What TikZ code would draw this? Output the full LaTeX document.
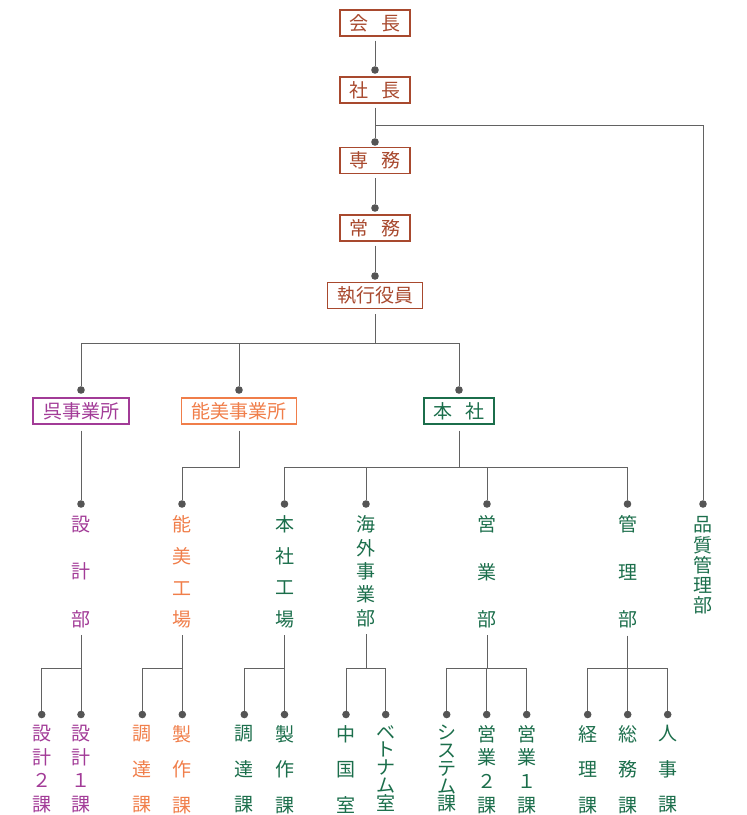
\documentclass[tikz,border=0pt]{standalone}
\usepackage{fontspec}
\setmainfont{Noto Sans CJK JP}
\definecolor{cBrown}{HTML}{A8492E}
\definecolor{cPurple}{HTML}{A23B97}
\definecolor{cOrange}{HTML}{F07E4A}
\definecolor{cGreen}{HTML}{1B6E4B}
\definecolor{cLine}{HTML}{626262}
\definecolor{cDot}{HTML}{555555}
\newcommand\myvfont[1]{\fontsize{19pt}{#1pt}\selectfont\lineskiplimit=-50pt\relax\lineskip=0pt\relax}
\begin{document}
\begin{tikzpicture}[x=1pt,y=-1pt,
  box/.style={draw, line width=1.2pt, inner sep=0pt, minimum height=26pt, font=\fontsize{19pt}{19pt}\selectfont},
  topbox/.style={box, draw=cBrown, text=cBrown},
  kurebox/.style={box, draw=cPurple, text=cPurple},
  nomibox/.style={box, draw=cOrange, text=cOrange},
  honbox/.style={box, draw=cGreen, text=cGreen},
  dot/.style={circle, fill=cDot, inner sep=0pt, minimum size=7.6pt},
  ln/.style={draw=cLine, line width=1pt},
  vlab/.style 2 args={anchor=north, inner sep=0pt, align=center, text=#1,
    font={\myvfont{#2}}},
]
\useasboundingbox (0,0) rectangle (747,815);
% helper rows
\coordinate (yA) at (0,125);
\coordinate (yB) at (0,343);
\coordinate (yC) at (0,467.5);
\coordinate (yD) at (0,668);

% top chain
\node[topbox, minimum width=70pt] (kaicho) at (375,23) {会\hspace{13.5pt}長};
\node[dot] (d1) at (375,70) {};
\node[topbox, minimum width=70pt] (shacho) at (375,90) {社\hspace{13.5pt}長};
\node[dot] (d2) at (375,142) {};
\node[topbox, minimum width=70pt] (senmu) at (375,160.5) {専\hspace{13.5pt}務};
\node[dot] (d3) at (375,208) {};
\node[topbox, minimum width=70pt] (jomu) at (375,228) {常\hspace{13.5pt}務};
\node[dot] (d4) at (375,276) {};
\node[topbox, minimum width=95pt] (shikko) at (375,295.5) {執行役員};

% offices
\node[dot] (dKure) at (81,390) {};
\node[dot] (dNomi) at (239,390) {};
\node[dot] (dHon) at (459,390) {};
\node[kurebox, minimum width=96pt] (kure) at (81,411) {呉事業所};
\node[nomibox, minimum width=115pt] (nomi) at (239,411) {能美事業所};
\node[honbox, minimum width=70pt] (honsha) at (459,411) {本\hspace{14pt}社};

% departments
\node[dot] (dSekkei) at (81,504) {};
\node[dot] (dNK) at (182,504) {};
\node[dot] (dHK) at (284.5,504) {};
\node[dot] (dKaigai) at (366,504) {};
\node[dot] (dEigyo) at (487,504) {};
\node[dot] (dKanri) at (627.5,504) {};
\node[dot] (dHin) at (703,504) {};

\node[vlab={cPurple}{47.5}] (lSekkei) at (81,515.5) {設\\計\\部};
\node[vlab={cOrange}{31.67}] (lNK) at (182,515.5) {能\\美\\工\\場};
\node[vlab={cGreen}{31.67}] (lHK) at (284.5,515.5) {本\\社\\工\\場};
\node[vlab={cGreen}{23.4}] (lKaigai) at (366,515.5) {海\\外\\事\\業\\部};
\node[vlab={cGreen}{47.5}] (lEigyo) at (487,515.5) {営\\業\\部};
\node[vlab={cGreen}{47.5}] (lKanri) at (627.5,515.5) {管\\理\\部};
\node[vlab={cGreen}{20.25}] (lHin) at (703,516.5) {品\\質\\管\\理\\部};

% sections
\node[dot] (bS2) at (41.7,714.5) {};
\node[dot] (bS1) at (81,714.5) {};
\node[dot] (bNC) at (142.3,714.5) {};
\node[dot] (bNS) at (182.3,714.5) {};
\node[dot] (bHC) at (244.3,714.5) {};
\node[dot] (bHS) at (284.5,714.5) {};
\node[dot] (bCN) at (346,714.5) {};
\node[dot] (bVN) at (385.7,714.5) {};
\node[dot] (bSys) at (446.7,714.5) {};
\node[dot] (bE2) at (486.7,714.5) {};
\node[dot] (bE1) at (526.7,714.5) {};
\node[dot] (bKe) at (587.7,714.5) {};
\node[dot] (bSo) at (627.7,714.5) {};
\node[dot] (bJi) at (667.7,714.5) {};

\node[vlab={cPurple}{23.67}] (tS2) at (41.7,725) {設\\計\\２\\課};
\node[vlab={cPurple}{23.67}] (tS1) at (81,725) {設\\計\\１\\課};
\node[vlab={cOrange}{35.5}] (tNC) at (142.3,725) {調\\達\\課};
\node[vlab={cOrange}{35.5}] (tNS) at (182.3,725) {製\\作\\課};
\node[vlab={cGreen}{35.5}] (tHC) at (244.3,725) {調\\達\\課};
\node[vlab={cGreen}{35.5}] (tHS) at (284.5,725) {製\\作\\課};
\node[vlab={cGreen}{35.5}] (tCN) at (346,725) {中\\国\\室};
\node[vlab={cGreen}{17.75}] (tVN) at (385.7,725) {ベ\\ト\\ナ\\ム\\室};
\node[vlab={cGreen}{17.75}] (tSys) at (446.7,725) {シ\\ス\\テ\\ム\\課};
\node[vlab={cGreen}{23.67}] (tE2) at (486.7,725) {営\\業\\２\\課};
\node[vlab={cGreen}{23.67}] (tE1) at (526.7,725) {営\\業\\１\\課};
\node[vlab={cGreen}{35.5}] (tKe) at (587.7,725) {経\\理\\課};
\node[vlab={cGreen}{35.5}] (tSo) at (627.7,725) {総\\務\\課};
\node[vlab={cGreen}{35.5}] (tJi) at (667.7,725) {人\\事\\課};

% connectors: top chain
\draw[ln, shorten <=4pt] (kaicho.south) -- (d1);
\draw[ln, shorten <=4pt] (shacho.south) -- (d2);
\draw[ln] (shacho.south |- yA) -| (dHin);
\draw[ln, shorten <=4pt] (senmu.south) -- (d3);
\draw[ln, shorten <=4pt] (jomu.south) -- (d4);
\draw[ln, shorten <=5pt] (shikko.south) -- (shikko.south |- yB);
\draw[ln] (dKure) -- (dKure |- yB) -- (dHon |- yB) -- (dHon);
\draw[ln] (dNomi) -- (dNomi |- yB);

% offices to departments
\draw[ln, shorten <=6pt] (kure.south) -- (dSekkei);
\draw[ln, shorten <=6pt] (nomi.south) -- (nomi.south |- yC) -| (dNK);
\draw[ln, shorten <=6pt] (honsha.south) -- (honsha.south |- yC);
\draw[ln] (dHK) -- (dHK |- yC) -- (dKanri |- yC) -- (dKanri);
\draw[ln] (dKaigai) -- (dKaigai |- yC);
\draw[ln] (dEigyo) -- (dEigyo |- yC);

% departments to sections
\draw[ln, shorten <=7pt] (lSekkei.south) -- (lSekkei.south |- yD);
\draw[ln] (bS2) -- (bS2 |- yD) -- (bS1 |- yD) -- (bS1);
\draw[ln, shorten <=7pt] (lNK.south) -- (lNK.south |- yD);
\draw[ln] (bNC) -- (bNC |- yD) -- (bNS |- yD) -- (bNS);
\draw[ln, shorten <=7pt] (lHK.south) -- (lHK.south |- yD);
\draw[ln] (bHC) -- (bHC |- yD) -- (bHS |- yD) -- (bHS);
\draw[ln, shorten <=7pt] (lKaigai.south) -- (lKaigai.south |- yD);
\draw[ln] (bCN) -- (bCN |- yD) -- (bVN |- yD) -- (bVN);
\draw[ln, shorten <=7pt] (lEigyo.south) -- (lEigyo.south |- yD);
\draw[ln] (bSys) -- (bSys |- yD) -- (bE1 |- yD) -- (bE1);
\draw[ln] (bE2) -- (bE2 |- yD);
\draw[ln, shorten <=7pt] (lKanri.south) -- (lKanri.south |- yD);
\draw[ln] (bKe) -- (bKe |- yD) -- (bJi |- yD) -- (bJi);
\draw[ln] (bSo) -- (bSo |- yD);
\end{tikzpicture}
\end{document}
